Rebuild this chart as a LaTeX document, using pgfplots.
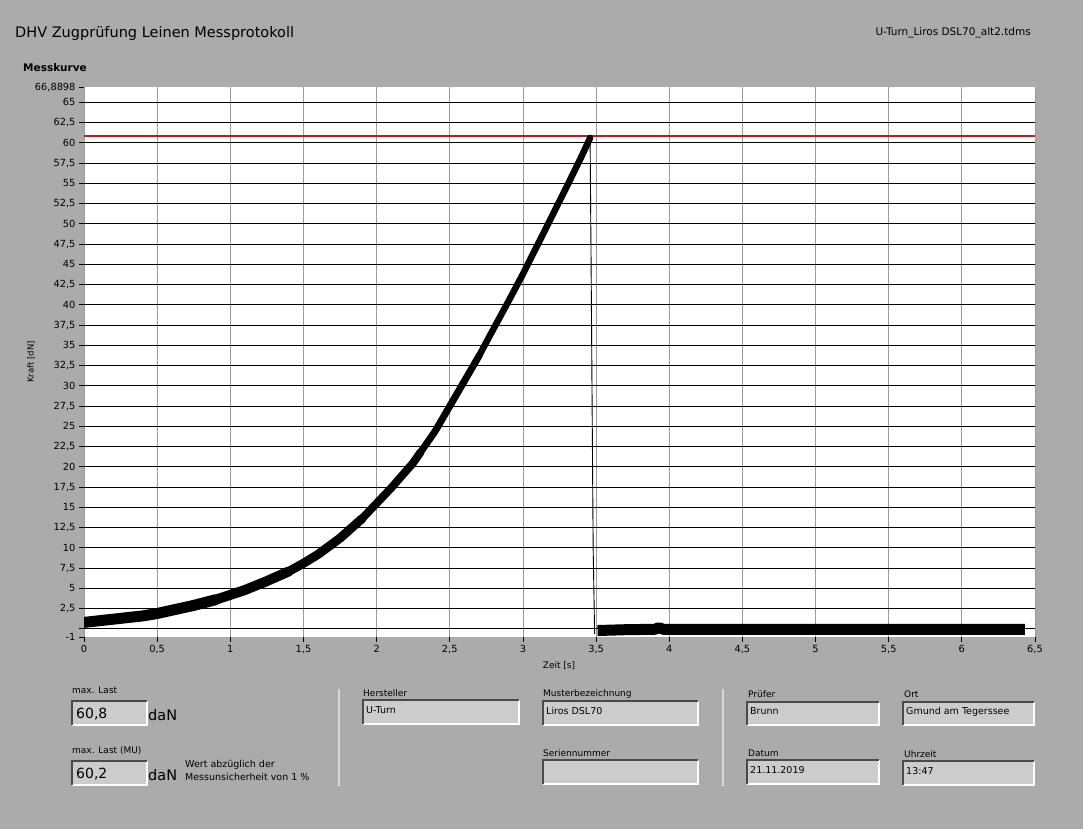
\documentclass[border=0pt]{standalone}
\usepackage{fontspec}
\setmainfont{DejaVu Sans}
\usepackage{pgfplots}
\pgfplotsset{compat=1.18}

\definecolor{panel}{HTML}{ABABAB}
\definecolor{field}{HTML}{CCCCCC}
\definecolor{fielddark}{HTML}{4A4A4A}
\definecolor{limitred}{HTML}{B22222}
\definecolor{vgrid}{HTML}{9A9A9A}

\newcommand{\fs}[1]{\fontsize{#1}{#1}\selectfont}
% sunken LabVIEW-style field: x1 y1 x2 y2 (pixels, y down), text
\newcommand{\field}[5]{%
  \fill[field] (#1,#2) rectangle (#3,#4);
  \draw[white, line width=1.5pt] (#1,#4) -- (#3,#4) -- (#3,#2);
  \draw[fielddark, line width=1.5pt] (#1,#4) -- (#1,#2) -- (#3,#2);
  \node[anchor=west, inner sep=0pt, font=\fs{9.5}] at (#1+3,{(#2+#4)/2-2}) {#5};
}

\begin{document}
\begin{tikzpicture}[x=1pt,y=1pt]
  \fill[panel] (0,0) rectangle (1083,829);

  \begin{axis}[
    at={(84pt,192pt)}, anchor=south west,
    scale only axis, width=951pt, height=550pt,
    xmin=0, xmax=6.5, ymin=-1, ymax=66.8898,
    axis background/.style={fill=white},
    axis line style={draw=none},
    tick pos=left,
    tick align=outside, major tick length=5pt,
    tick style={black, line width=0.8pt},
    xtick={0,0.5,...,6.5},
    ytick={-1,2.5,5,...,65,66.8898},
    xmajorgrids, major grid style={vgrid, line width=0.8pt},
    extra y ticks={0,2.5,5,...,65},
    extra y tick labels={},
    extra y tick style={grid=major, major grid style={black, line width=1.1pt}},
    ticklabel style={font=\fs{9.8}},
    /pgf/number format/assume math mode=true,
    /pgf/number format/.cd, fixed, precision=4, use comma, 1000 sep={},
  ]
    % zero line
    \addplot[black, line width=1.1pt] coordinates {(0,0) (6.5,0)};
    % limit line
    \addplot[limitred, line width=2pt] coordinates {(0,60.8) (6.5,60.8)};

    % loading curve, drawn thick for the noise band (band narrows as it steepens)
    \addplot[black, line width=11pt, line cap=round, line join=round] coordinates {
      (0,0.8) (0.1,1.0) (0.25,1.3) (0.4,1.6) (0.5,1.9) (0.6,2.3)
      (0.75,2.9) (0.9,3.6)
    };
    \addplot[black, line width=10pt, line cap=round, line join=round] coordinates {
      (0.9,3.6) (1.0,4.2) (1.1,4.8) (1.25,5.9) (1.4,7.1)
    };
    \addplot[black, line width=9pt, line cap=round, line join=round] coordinates {
      (1.4,7.1) (1.5,8.1) (1.6,9.2) (1.75,11.2) (1.9,13.6)
    };
    \addplot[black, line width=8pt, line cap=round, line join=round] coordinates {
      (1.9,13.6) (2.0,15.5) (2.1,17.4) (2.25,20.5) (2.3,21.8)
    };
    \addplot[black, line width=7pt, line cap=round, line join=round] coordinates {
      (2.3,21.8) (2.4,24.4) (2.5,27.5) (2.6,30.6) (2.7,33.7)
    };
    \addplot[black, line width=6.5pt, line cap=round, line join=round] coordinates {
      (2.7,33.7) (2.75,35.4) (2.9,40.4) (3.0,43.8) (3.1,47.4) (3.2,51.0)
      (3.3,54.6) (3.4,58.3) (3.459,60.6)
    };
    % break
    \addplot[black, line width=0.9pt] coordinates {
      (3.459,60.6) (3.466,45) (3.472,30) (3.48,10) (3.49,-0.6)
    };
    % after break
    \addplot[black, line width=11pt, line join=round] coordinates {
      (3.51,-0.2) (3.7,-0.1) (3.9,-0.05) (3.93,0.15) (3.96,-0.05)
      (4.5,-0.05) (5.0,-0.05) (5.5,-0.05) (6.0,-0.05) (6.43,-0.05)
    };
  \end{axis}

  \begin{scope}[yshift=829pt, yscale=-1]
    % header
    \node[anchor=base west, inner sep=0pt, font=\fs{14.5}] at (15,38) {DHV Zugprüfung Leinen Messprotokoll};
    \node[anchor=base east, inner sep=0pt, font=\fs{10.5}] at (1031,36) {U-Turn\_Liros DSL70\_alt2.tdms};
    \node[anchor=base west, inner sep=0pt, font=\bfseries\fs{10.5}] at (23,72) {Messkurve};

    % axis titles
    \node[rotate=90, inner sep=0pt, font=\fs{8.5}] at (31,362) {Kraft [dN]};
    \node[inner sep=0pt, font=\fs{9}] at (559,666) {Zeit [s]};

    % separators
    \draw[white!85!black, line width=1.6pt] (339,689) -- (339,786);
    \draw[white!85!black, line width=1.6pt] (723,689) -- (723,786);

    % max. Last
    \node[anchor=base west, inner sep=0pt, font=\fs{9}] at (72,694) {max. Last};
    \field{72}{701}{147}{725}{}
    \node[anchor=west, inner sep=0pt, font=\fs{14}] at (76,714) {60,8};
    \node[anchor=west, inner sep=0pt, font=\fs{14.5}] at (148,715) {daN};

    \node[anchor=base west, inner sep=0pt, font=\fs{9}] at (72,754) {max. Last (MU)};
    \field{72}{761}{147}{785}{}
    \node[anchor=west, inner sep=0pt, font=\fs{14}] at (76,774) {60,2};
    \node[anchor=west, inner sep=0pt, font=\fs{14.5}] at (148,775) {daN};
    \node[anchor=base west, inner sep=0pt, font=\fs{9.5}] at (185,768) {Wert abzüglich der};
    \node[anchor=base west, inner sep=0pt, font=\fs{9.5}] at (185,781) {Messunsicherheit von 1 \%};

    % Hersteller / Muster
    \node[anchor=base west, inner sep=0pt, font=\fs{9}] at (363,697) {Hersteller};
    \field{363}{700}{519}{724}{U-Turn}
    \node[anchor=base west, inner sep=0pt, font=\fs{9}] at (543,697) {Musterbezeichnung};
    \field{543}{701}{698}{725}{Liros DSL70}
    \node[anchor=base west, inner sep=0pt, font=\fs{9}] at (543,757) {Seriennummer};
    \field{543}{760}{698}{784}{}

    % Prüfer / Ort / Datum / Uhrzeit
    \node[anchor=base west, inner sep=0pt, font=\fs{9}] at (748,698) {Prüfer};
    \field{747}{702}{879}{725}{Brunn}
    \node[anchor=base west, inner sep=0pt, font=\fs{9}] at (904,698) {Ort};
    \field{903}{702}{1034}{725}{Gmund am Tegerssee}
    \node[anchor=base west, inner sep=0pt, font=\fs{9}] at (748,757) {Datum};
    \field{747}{760}{879}{784}{21.11.2019}
    \node[anchor=base west, inner sep=0pt, font=\fs{9}] at (904,758) {Uhrzeit};
    \field{903}{761}{1034}{785}{13:47}
  \end{scope}
\end{tikzpicture}
\end{document}
